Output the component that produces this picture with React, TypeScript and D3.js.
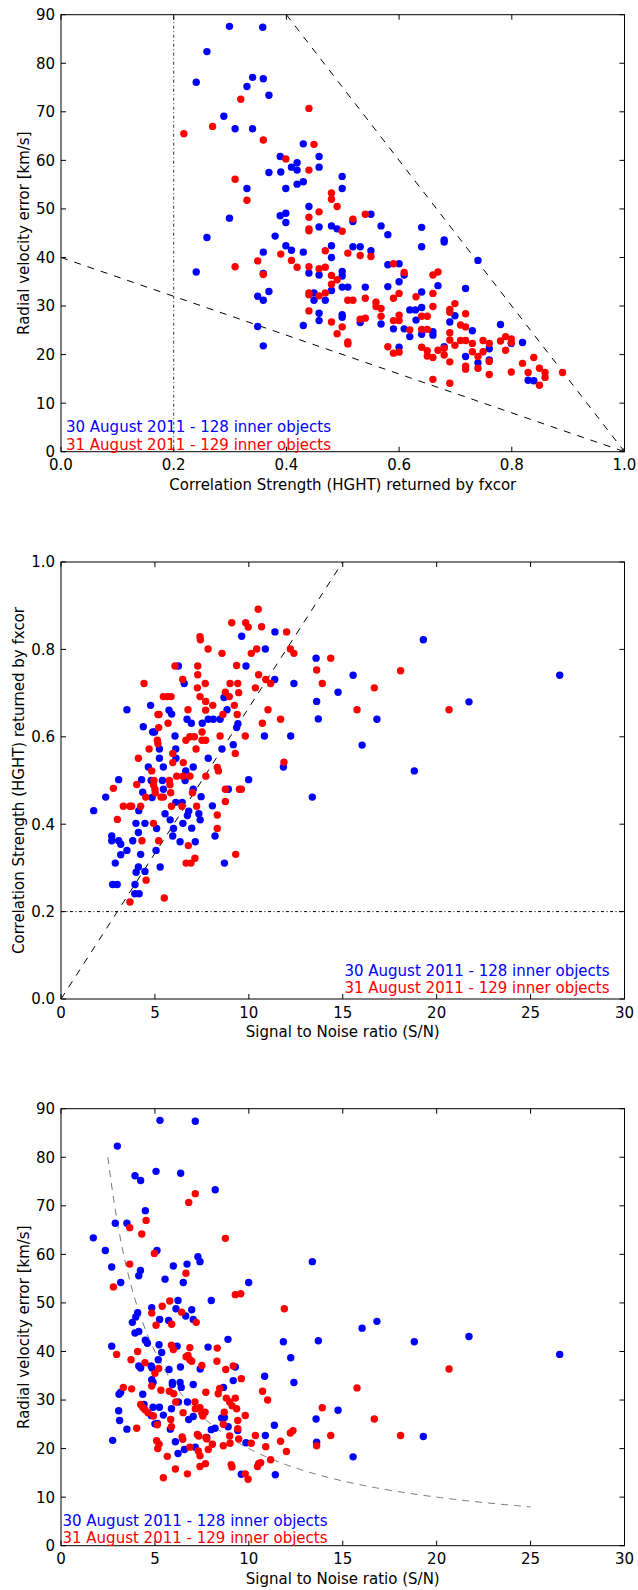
import React from "react";
import * as d3 from "d3";

// ---------- DATA ----------
// Panel 1: Correlation strength (HGHT) vs radial velocity error
const p1Blue: [number, number][] = [
  [0.299,87.6],[0.358,87.4],[0.259,82.4],[0.240,76.1],[0.340,77.1],[0.330,75.2],[0.359,76.8],[0.369,73.4],[0.289,69.1],[0.309,66.5],[0.340,66.5],[0.389,60.8],[0.369,57.5],[0.390,57.6],[0.409,58.6],[0.419,59.5],[0.419,58.0],[0.399,54.2],[0.419,55.1],[0.430,55.6],[0.430,63.4],[0.458,60.8],[0.458,58.6],[0.330,54.2],[0.299,48.1],[0.389,48.6],[0.399,49.1],[0.399,47.2],[0.440,50.5],[0.458,46.3],[0.259,44.1],[0.380,44.4],
  [0.499,56.7],[0.499,54.2],[0.550,48.9],[0.518,47.4],[0.480,46.5],[0.490,45.9],[0.568,46.5],[0.580,44.7],[0.640,46.2],[0.680,43.6],
  [0.240,37.0],[0.359,41.1],[0.399,42.4],[0.409,41.5],[0.430,41.1],[0.440,36.8],[0.359,36.7],[0.369,33.0],[0.349,32.0],[0.359,31.2],[0.349,25.8],[0.359,21.8],[0.430,26.0],[0.449,32.7],[0.449,31.2],[0.458,28.5],[0.458,27.0],[0.458,36.4],
  [0.480,42.4],[0.480,40.0],[0.640,42.2],[0.680,43.2],[0.740,39.4],[0.499,37.1],[0.499,36.2],[0.480,33.2],[0.469,31.2],[0.499,33.9],[0.509,33.9],[0.499,28.2],[0.499,27.7],[0.540,33.9],[0.531,26.6],[0.550,41.4],[0.531,42.2],[0.518,42.2],[0.580,38.5],[0.600,38.7],[0.609,36.4],[0.600,35.0],[0.580,34.0],[0.568,26.3],[0.590,25.3],[0.609,25.3],[0.619,29.2],[0.629,29.2],[0.640,29.7],[0.640,32.9],[0.630,27.1],[0.619,23.7],[0.600,21.5],[0.640,24.2],[0.660,24.7],[0.660,24.0],[0.669,34.2],[0.718,33.6],[0.690,26.7],[0.699,28.0],[0.680,21.6],[0.730,24.9],[0.760,21.2],[0.760,18.9],[0.740,18.3],[0.718,19.6],[0.780,26.2],[0.799,22.3],[0.819,22.5],[0.829,14.7],[0.839,14.6]
];
const p1Red: [number, number][] = [
  [0.218,65.5],[0.269,67.0],[0.319,72.6],[0.359,64.2],[0.440,70.7],[0.449,63.3],[0.399,60.3],[0.440,58.0],[0.309,56.1],[0.330,51.8],[0.440,48.3],[0.440,45.9],[0.440,45.5],[0.458,49.4],
  [0.480,53.3],[0.480,52.0],[0.490,50.5],[0.518,47.9],[0.540,48.9],[0.499,45.4],
  [0.309,38.1],[0.349,39.3],[0.359,36.5],[0.390,40.7],[0.409,39.4],[0.419,38.0],[0.440,38.1],[0.458,37.7],[0.440,32.7],[0.440,32.3],[0.458,32.1],[0.440,29.0],
  [0.469,41.4],[0.469,38.0],[0.480,36.3],[0.480,34.5],[0.490,35.4],[0.469,32.7],[0.480,26.7],[0.490,24.3],[0.499,25.7],[0.509,22.6],[0.509,22.2],[0.509,31.2],[0.518,31.2],[0.509,40.9],[0.531,40.4],[0.550,40.2],[0.540,31.6],[0.531,27.3],[0.540,27.5],[0.559,30.8],[0.559,29.9],[0.568,29.5],[0.568,27.9],[0.590,38.7],[0.609,36.9],[0.600,32.6],[0.590,31.6],[0.590,27.0],[0.600,28.1],[0.600,27.0],[0.580,21.6],[0.590,20.3],[0.600,20.5],[0.619,25.1],[0.630,31.9],[0.640,27.9],[0.650,27.9],[0.640,25.2],[0.650,25.2],[0.640,21.5],[0.650,20.8],[0.650,19.7],[0.660,19.4],[0.660,29.9],[0.660,32.6],[0.660,36.4],[0.669,37.0],[0.660,14.9],[0.669,20.9],[0.680,21.3],[0.680,19.9],[0.690,18.5],[0.690,14.1],[0.690,29.3],[0.690,28.7],[0.699,30.5],[0.690,24.5],[0.690,23.0],[0.699,21.9],[0.709,26.1],[0.718,25.7],[0.718,28.4],[0.709,22.9],[0.718,22.9],[0.730,22.3],[0.730,20.6],[0.718,17.6],[0.718,17.0],[0.740,19.6],[0.740,17.2],[0.749,20.6],[0.749,22.9],[0.760,22.3],[0.760,18.6],[0.760,15.9],[0.780,22.8],[0.789,23.7],[0.789,20.9],[0.799,23.2],[0.799,22.5],[0.799,16.4],[0.819,18.2],[0.829,16.3],[0.839,19.4],[0.849,17.2],[0.849,13.7],[0.859,16.3],[0.859,15.3],[0.890,16.3]
];

// Panel 2: S/N vs correlation strength
const p2Blue: [number, number][] = [
  [3.51,0.662],[4.38,0.623],[4.77,0.672],[4.88,0.611],[4.98,0.611],[5.24,0.572],[5.24,0.551],[4.65,0.531],[5.45,0.531],[5.89,0.652],[5.75,0.661],[6.07,0.602],[6.11,0.572],[6.12,0.551],[6.25,0.762],[6.56,0.722],[6.71,0.640],[6.94,0.631],[6.64,0.522],[7.04,0.531],[7.52,0.631],[7.84,0.640],[8.11,0.640],[8.47,0.640],[7.84,0.551],[8.57,0.572],[8.68,0.690],[8.84,0.662],[9.17,0.582],[9.35,0.621],[9.42,0.630],[9.62,0.830],[9.85,0.762],[9.99,0.502],[10.88,0.801],[11.39,0.840],[11.38,0.731],[10.83,0.602],[12.23,0.602],[12.40,0.722],[11.84,0.531],[13.58,0.780],[13.61,0.681],[13.70,0.641],[3.07,0.502],[4.29,0.502],
  [19.29,0.822],[15.55,0.741],[14.75,0.702],[16.82,0.640],[21.72,0.680],[26.55,0.741],[16.03,0.581],[18.81,0.522],
  [1.74,0.431],[2.38,0.462],[2.70,0.373],[2.70,0.362],[3.07,0.362],[3.18,0.354],[3.51,0.340],[3.18,0.330],[2.89,0.311],[2.75,0.262],[2.99,0.262],[3.82,0.362],[3.99,0.402],[4.12,0.381],[4.14,0.431],[4.35,0.473],[4.24,0.331],[4.12,0.302],[4.00,0.290],[4.47,0.292],[3.94,0.262],[3.93,0.241],[4.16,0.241],[4.47,0.402],[4.80,0.500],[4.85,0.461],[5.09,0.390],[5.06,0.340],[5.28,0.302],[5.40,0.500],[5.54,0.424],[5.81,0.410],[5.95,0.373],[5.99,0.390],[6.11,0.450],[6.34,0.360],[6.49,0.402],[6.45,0.450],[6.61,0.500],[6.73,0.420],[6.80,0.430],[6.96,0.391],[7.04,0.480],[7.15,0.360],[7.46,0.463],[7.34,0.424],[7.41,0.410],[8.06,0.442],[8.20,0.373],[8.70,0.311],[8.91,0.480],[13.38,0.462],[5.45,0.480]
];
const p2Red: [number, number][] = [
  [4.42,0.722],[4.12,0.551],[4.69,0.572],[4.83,0.522],[5.16,0.651],[5.22,0.651],[5.13,0.592],[5.16,0.584],[5.20,0.621],[5.45,0.692],[5.66,0.692],[5.86,0.692],[5.70,0.631],[5.95,0.562],[5.95,0.541],[6.07,0.762],[6.48,0.731],[6.51,0.541],[6.76,0.662],[6.65,0.592],[6.86,0.600],[7.10,0.600],[7.19,0.572],[7.28,0.762],[7.28,0.742],[7.26,0.712],[7.40,0.692],[7.40,0.829],[7.42,0.822],[7.68,0.722],[7.51,0.611],[7.51,0.592],[7.70,0.592],[7.70,0.681],[7.83,0.801],[7.70,0.661],[8.08,0.672],[8.47,0.602],[8.38,0.522],[8.57,0.791],[8.62,0.651],[8.75,0.702],[8.96,0.692],[9.09,0.861],[9.00,0.722],[9.23,0.672],[9.28,0.562],[9.35,0.763],[9.38,0.651],[9.41,0.722],[9.46,0.701],[9.83,0.861],[9.97,0.851],[9.81,0.602],[10.13,0.791],[10.35,0.712],[10.42,0.801],[10.50,0.892],[10.52,0.742],[10.68,0.852],[10.72,0.631],[10.90,0.731],[11.02,0.662],[11.16,0.722],[11.69,0.640],[11.87,0.542],[12.01,0.840],[12.21,0.801],[12.40,0.791],[13.61,0.753],
  [14.36,0.780],[13.91,0.722],[18.08,0.751],[16.68,0.712],[15.76,0.662],[20.66,0.662],
  [2.79,0.482],[3.00,0.411],[3.32,0.441],[3.67,0.441],[3.76,0.441],[4.03,0.491],[4.24,0.441],[4.31,0.362],[4.51,0.462],[4.53,0.272],[3.67,0.222],[4.92,0.490],[4.95,0.500],[4.92,0.402],[5.00,0.480],[5.02,0.472],[5.20,0.362],[5.32,0.462],[5.45,0.462],[5.50,0.231],[5.77,0.500],[5.80,0.490],[5.84,0.472],[5.88,0.441],[6.16,0.510],[6.49,0.510],[6.44,0.441],[6.78,0.351],[6.66,0.311],[6.92,0.311],[7.13,0.322],[6.86,0.510],[7.00,0.472],[7.22,0.441],[7.71,0.510],[8.32,0.421],[8.32,0.390],[8.32,0.530],[8.75,0.452],[8.75,0.480],[9.30,0.331],[9.60,0.480],[9.50,0.480]
];

// Panel 3: S/N vs radial velocity error
const p3Blue: [number, number][] = [
  [5.27,87.6],[7.15,87.4],[3.00,82.3],[3.94,76.2],[4.24,75.2],[5.06,77.1],[6.37,76.7],[8.21,73.3],[4.49,69.0],[2.89,66.4],[3.51,66.4],[1.72,63.4],[2.36,60.8],[5.11,60.8],[2.70,57.4],[3.18,54.2],[4.23,56.7],[4.14,55.6],[5.98,57.6],[5.54,54.9],[6.71,58.0],[6.51,54.2],[7.29,59.5],[7.40,58.5],[9.99,54.2],[13.38,58.5],[8.00,50.5],[6.23,50.5],[4.83,49.0],[6.12,48.8],[6.96,48.6],[6.64,47.3],[7.04,46.6],[5.25,46.6],[5.73,46.4],[4.08,48.0],[3.98,47.1],[3.80,46.0],
  [16.03,44.8],[16.82,46.2],
  [2.70,41.1],[2.75,21.7],[3.09,31.2],[3.18,31.6],[3.07,27.8],[3.12,25.8],[3.51,24.0],[3.94,43.8],[4.14,44.1],[4.14,37.0],[4.24,36.6],[4.35,31.2],[4.42,29.1],[4.49,42.3],[4.60,41.7],[4.80,37.0],[4.85,36.6],[4.83,34.2],[4.90,33.6],[4.80,26.8],[4.90,28.5],[5.00,25.1],[5.13,25.2],[5.22,41.4],[5.36,39.8],[5.18,38.3],[5.24,28.5],[5.45,26.9],[5.75,36.3],[5.93,33.6],[5.93,33.2],[5.88,28.2],[5.82,24.0],[6.09,21.4],[6.23,19.0],[6.18,41.1],[6.36,36.8],[6.34,33.6],[6.40,32.6],[6.25,29.6],[6.57,19.8],[6.73,29.6],[6.80,26.0],[7.04,33.2],[7.04,26.6],[7.15,20.3],[7.41,36.4],[7.76,22.3],[7.83,40.9],[8.00,23.9],[8.20,24.2],[8.55,26.3],[8.70,26.4],[8.65,32.6],[8.90,24.5],[8.89,42.5],[9.17,34.0],[9.28,36.8],[9.41,23.7],[9.60,14.7],[9.85,21.2],[10.84,34.9],[10.88,22.7],[11.36,24.8],[11.41,14.6],[11.84,42.0],[12.23,38.7],[12.40,33.6],[13.58,26.1],[13.61,21.3],[13.70,42.2],
  [18.81,42.0],[21.72,43.1],[26.55,39.4],[14.75,27.9],[15.55,18.3],[19.29,22.5]
];
const p3Red: [number, number][] = [
  [7.15,72.5],[6.80,70.7],[4.53,67.0],[3.66,65.5],[4.30,64.2],[8.75,63.3],[4.97,60.2],[3.66,58.0],[6.65,56.1],[2.79,53.3],[9.28,51.7],[9.57,51.9],[11.89,48.8],[5.79,50.4],[5.39,49.3],[6.42,48.1],[4.83,47.9],[5.06,45.4],[5.89,45.6],[7.20,46.0],
  [2.96,39.4],[3.32,32.6],[3.76,32.3],[3.73,38.3],[4.03,24.2],[4.08,40.0],[4.24,29.1],[4.35,28.5],[4.47,28.0],[4.63,27.4],[4.47,37.7],[4.83,32.9],[4.92,26.7],[5.00,35.5],[5.13,24.9],[5.09,21.6],[5.15,20.0],[5.20,36.5],[5.22,20.9],[5.32,32.0],[5.45,14.0],[5.66,18.4],[5.77,31.8],[5.84,26.0],[5.88,24.5],[5.88,41.3],[5.98,40.4],[6.00,31.3],[6.11,29.6],[6.09,15.8],[6.45,22.4],[6.48,21.9],[6.50,27.4],[6.66,38.9],[6.76,39.2],[6.86,38.3],[6.96,38.0],[6.86,40.8],[6.73,14.8],[6.86,20.3],[7.13,29.6],[7.15,28.2],[7.26,22.9],[7.33,22.6],[7.31,19.5],[7.40,18.5],[7.40,28.4],[7.50,27.3],[7.55,26.7],[7.40,16.3],[7.50,37.1],[7.67,27.5],[7.69,16.9],[7.71,22.3],[7.71,31.6],[7.76,22.0],[7.84,19.8],[8.06,20.9],[8.32,40.7],[8.30,38.0],[8.37,31.3],[8.45,32.4],[8.64,20.6],[8.64,25.0],[8.69,27.5],[8.77,36.3],[8.80,30.4],[8.98,29.6],[8.98,22.6],[9.00,21.1],[9.06,16.7],[9.10,16.2],[9.11,28.8],[9.17,37.0],[9.28,30.4],[9.35,28.2],[9.41,24.1],[9.41,25.8],[9.46,22.0],[9.60,34.4],[9.81,26.8],[9.81,14.8],[9.96,13.7],[10.13,21.1],[10.35,22.7],[10.46,16.3],[10.52,16.9],[10.63,17.1],[10.73,31.8],[10.90,20.4],[11.00,30.0],[11.16,17.7],[11.69,21.5],[12.00,19.4],[12.21,23.2],[12.35,23.7],[13.61,20.6],
  [20.66,36.4],[15.76,32.5],[13.91,28.4],[16.68,26.1],[14.36,22.7],[18.08,22.7]
];

const hghtTicks = [0, 0.2, 0.4, 0.6, 0.8, 1.0];
const errTicks = [0, 10, 20, 30, 40, 50, 60, 70, 80, 90];
const snTicks = [0, 5, 10, 15, 20, 25, 30];

const legendBlue = "30 August 2011 - 128 inner objects";
const legendRed = "31 August 2011 - 129 inner objects";
const labelHght = "Correlation Strength (HGHT) returned by fxcor";
const labelErr = "Radial velocity error [km/s]";
const labelSN = "Signal to Noise ratio (S/N)";

// ---------- LAYOUT ----------
const W = 638, H = 1590;
const L = 61, R = 624.5, PH = 437;
const FONT = "DejaVu Sans, sans-serif";
const FS = 15;
const BLUE = "#0000ff", RED = "#ff0000";
const DOT_R = 3.7;

type PanelProps = {
  id: string;
  top: number;
  xDom: [number, number];
  yDom: [number, number];
  xTicks: number[];
  yTicks: number[];
  xFmt: (v: number) => string;
  yFmt: (v: number) => string;
  xLabel: string;
  yLabel: string;
  yLabelX: number;
  blue: [number, number][];
  red: [number, number][];
  extras: (x: d3.ScaleLinear<number, number>, y: d3.ScaleLinear<number, number>) => React.ReactNode;
  legend: { x: number; anchor: "start" | "end"; yBlue: number; yRed: number };
};

function Panel(p: PanelProps) {
  const x = d3.scaleLinear().domain(p.xDom).range([L, R]);
  const y = d3.scaleLinear().domain(p.yDom).range([p.top + PH, p.top]);
  const bottom = p.top + PH;
  const tl = 5;
  return (
    <g>
      <defs>
        <clipPath id={p.id}>
          <rect x={L} y={p.top} width={R - L} height={PH} />
        </clipPath>
      </defs>
      <g clipPath={`url(#${p.id})`}>
        {p.extras(x, y)}
        {p.blue.map((d, i) => (
          <circle key={"b" + i} cx={x(d[0])} cy={y(d[1])} r={DOT_R} fill={BLUE} />
        ))}
        {p.red.map((d, i) => (
          <circle key={"r" + i} cx={x(d[0])} cy={y(d[1])} r={DOT_R} fill={RED} />
        ))}
      </g>
      {p.xTicks.map((t, i) => (
        <g key={"xt" + i}>
          <line x1={x(t)} x2={x(t)} y1={bottom} y2={bottom - tl} stroke="#000" strokeWidth={1} />
          <line x1={x(t)} x2={x(t)} y1={p.top} y2={p.top + tl} stroke="#000" strokeWidth={1} />
          <text x={x(t)} y={bottom + 18.5} textAnchor="middle" fontFamily={FONT} fontSize={FS} fill="#000">
            {p.xFmt(t)}
          </text>
        </g>
      ))}
      {p.yTicks.map((t, i) => (
        <g key={"yt" + i}>
          <line x1={L} x2={L + tl} y1={y(t)} y2={y(t)} stroke="#000" strokeWidth={1} />
          <line x1={R} x2={R - tl} y1={y(t)} y2={y(t)} stroke="#000" strokeWidth={1} />
          <text x={L - 6} y={y(t) + 5.4} textAnchor="end" fontFamily={FONT} fontSize={FS} fill="#000">
            {p.yFmt(t)}
          </text>
        </g>
      ))}
      <rect x={L} y={p.top} width={R - L} height={PH} fill="none" stroke="#000" strokeWidth={1} />
      <text x={p.legend.x} y={p.legend.yBlue} textAnchor={p.legend.anchor} fontFamily={FONT} fontSize={FS} fill={BLUE}>
        {legendBlue}
      </text>
      <text x={p.legend.x} y={p.legend.yRed} textAnchor={p.legend.anchor} fontFamily={FONT} fontSize={FS} fill={RED}>
        {legendRed}
      </text>
      <text x={(L + R) / 2} y={bottom + 38.3} textAnchor="middle" fontFamily={FONT} fontSize={FS} fill="#000">
        {p.xLabel}
      </text>
      <text
        transform={`translate(${p.yLabelX},${p.top + PH / 2}) rotate(-90)`}
        textAnchor="middle"
        fontFamily={FONT}
        fontSize={FS}
        fill="#000"
      >
        {p.yLabel}
      </text>
    </g>
  );
}

const fmt1 = d3.format(".1f");
const fmt0 = d3.format("d");

export default function App() {
  React.useEffect(() => {
    document.body.style.margin = "0";
  }, []);
  const line = d3.line<[number, number]>();
  return (
    <svg width={W} height={H} style={{ display: "block", position: "absolute", left: 0, top: 0, background: "#fff" }}>
      <rect width={W} height={H} fill="#fff" />
      <Panel
        id="c1"
        top={14.7}
        xDom={[0, 1]}
        yDom={[0, 90]}
        xTicks={hghtTicks}
        yTicks={errTicks}
        xFmt={fmt1}
        yFmt={fmt0}
        xLabel={labelHght}
        yLabel={labelErr}
        yLabelX={28.5}
        blue={p1Blue}
        red={p1Red}
        legend={{ x: 66, anchor: "start", yBlue: 432.3, yRed: 450.3 }}
        extras={(x, y) => (
          <g>
            <path d={line([[x(0.2), y(0)], [x(0.2), y(90)]]) || ""} stroke="#333" strokeWidth={1} strokeDasharray="3,2.5,1,2.5" fill="none" />
            <path d={line([[x(0), y(40)], [x(1), y(0)]]) || ""} stroke="#000" strokeWidth={1} strokeDasharray="7,7" fill="none" />
            <path d={line([[x(0.4), y(90)], [x(1), y(0)]]) || ""} stroke="#000" strokeWidth={1} strokeDasharray="7,7" fill="none" />
            <circle cx={x(1)} cy={y(0)} r={3.5} fill="#333" />
          </g>
        )}
      />
      <Panel
        id="c2"
        top={562}
        xDom={[0, 30]}
        yDom={[0, 1]}
        xTicks={snTicks}
        yTicks={hghtTicks}
        xFmt={fmt0}
        yFmt={fmt1}
        xLabel={labelSN}
        yLabel={labelHght}
        yLabelX={23.5}
        blue={p2Blue}
        red={p2Red}
        legend={{ x: 609.5, anchor: "end", yBlue: 975.7, yRed: 992.7 }}
        extras={(x, y) => (
          <g>
            <path d={line([[x(0), y(0.2)], [x(30), y(0.2)]]) || ""} stroke="#000" strokeWidth={1} strokeDasharray="3,2.5,1,2.5" fill="none" />
            <path d={line([[x(0), y(0)], [x(15), y(1)]]) || ""} stroke="#000" strokeWidth={1} strokeDasharray="7,7" fill="none" />
          </g>
        )}
      />
      <Panel
        id="c3"
        top={1108.7}
        xDom={[0, 30]}
        yDom={[0, 90]}
        xTicks={snTicks}
        yTicks={errTicks}
        xFmt={fmt0}
        yFmt={fmt0}
        xLabel={labelSN}
        yLabel={labelErr}
        yLabelX={28.5}
        blue={p3Blue}
        red={p3Red}
        legend={{ x: 62.5, anchor: "start", yBlue: 1525.7, yRed: 1542.7 }}
        extras={(x, y) => {
          const pts: [number, number][] = d3.range(2.5, 25.001, 0.1).map((s) => [x(s), y(200 / s)] as [number, number]);
          return <path d={line(pts) || ""} stroke="#777" strokeWidth={1} strokeDasharray="7,6" fill="none" />;
        }}
      />
    </svg>
  );
}
